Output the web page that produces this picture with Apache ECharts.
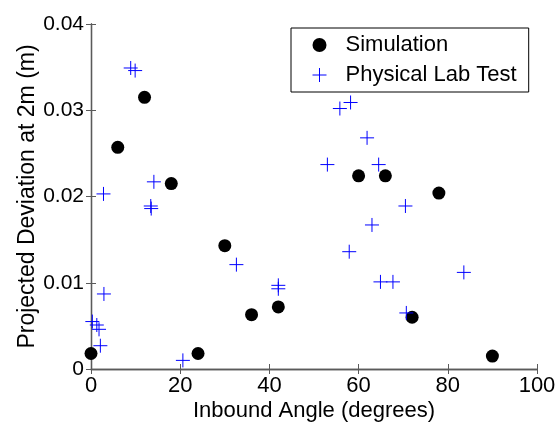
<!DOCTYPE html>
<html>
<head>
<meta charset="utf-8">
<script src="https://cdn.jsdelivr.net/npm/echarts@6/dist/echarts.min.js"></script>
<style>
  html, body { margin: 0; padding: 0; background: #fff; }
  #chart { width: 557px; height: 423px; }
</style>
</head>
<body>
<div id="chart"></div>
<script>
// Simulated runs: inbound angle (degrees) vs projected deviation at 2 m (m)
const simAngle = [0, 6, 12, 18, 24, 30, 36, 42, 60, 66, 72, 78, 90];
const simDeviation = [0.0018, 0.0257, 0.0315, 0.0215, 0.0018, 0.0143, 0.0063, 0.0072, 0.0224, 0.0224, 0.0060, 0.0204, 0.0015];

// Physical lab test measurements
const labAngle = [0.3, 1.3, 1.8, 2.1, 2.9, 2.8, 8.9, 9.9, 13.4, 13.5, 14.1, 20.6, 32.6, 42, 42, 53, 55.8, 58.2, 57.9, 61.9, 63, 64.5, 64.9, 67.7, 70.5, 70.7, 83.6];
const labDeviation = [0.0055, 0.0051, 0.0046, 0.0027, 0.0087, 0.0203, 0.0349, 0.0346, 0.0189, 0.0186, 0.0217, 0.0010, 0.0121, 0.0097, 0.0093, 0.0237, 0.0302, 0.0309, 0.0136, 0.0268, 0.0167, 0.0237, 0.0101, 0.0101, 0.0189, 0.0065, 0.0112];

const xTicks = { min: 0, max: 100, interval: 20 };
const yTicks = { min: 0, max: 0.04, interval: 0.01 };

const FONT = 'Liberation Sans, Arial, sans-serif';
const AXIS_COLOR = '#5a5a5a';
const CROSS = 'path://M0,-1L0,1M-1,0L1,0';

const pairs = (xs, ys) => xs.map((x, i) => [x, ys[i]]);

const baseAxis = {
  axisLine: { show: true, lineStyle: { color: AXIS_COLOR, width: 1.3 } },
  axisTick: { show: true, inside: true, length: 5, lineStyle: { color: AXIS_COLOR } },
  splitLine: { show: false }
};

const chart = echarts.init(document.getElementById('chart'), null, { renderer: 'canvas' });
chart.setOption({
  animation: false,
  backgroundColor: '#ffffff',
  grid: { left: 91, right: 20, top: 24, bottom: 54, containLabel: false, outerBoundsMode: 'none' },
  legend: {
    orient: 'vertical',
    left: 291,
    top: 28,
    padding: [6, 12, 6, 21],
    itemGap: 8,
    itemWidth: 30,
    itemHeight: 14,
    backgroundColor: '#ffffff',
    borderColor: '#000000',
    borderWidth: 1,
    borderRadius: 0,
    textStyle: { fontFamily: FONT, fontSize: 22, color: '#000', padding: [0, 0, 0, 6] },
    data: [
      { name: 'Simulation', icon: 'circle' },
      { name: 'Physical Lab Test', icon: CROSS, itemStyle: { color: 'transparent', borderColor: '#0000ff', borderWidth: 1 } }
    ]
  },
  xAxis: [
    Object.assign({}, baseAxis, {
      type: 'value', position: 'bottom',
      min: xTicks.min, max: xTicks.max, interval: xTicks.interval,
      name: 'Inbound Angle (degrees)',
      nameLocation: 'middle', nameGap: 31, nameMoveOverlap: false,
      nameTextStyle: { fontFamily: FONT, fontSize: 22, color: '#000' },
      axisLabel: { fontFamily: FONT, fontSize: 22, color: '#000', margin: 6 }
    }),
    Object.assign({}, baseAxis, {
      type: 'value', position: 'top',
      min: xTicks.min, max: xTicks.max, interval: xTicks.interval,
      axisLabel: { show: false }
    })
  ],
  yAxis: [
    Object.assign({}, baseAxis, {
      type: 'value', position: 'left',
      min: yTicks.min, max: yTicks.max, interval: yTicks.interval,
      name: 'Projected Deviation at 2m (m)',
      nameLocation: 'middle', nameGap: 52, nameMoveOverlap: false,
      nameTextStyle: { fontFamily: FONT, fontSize: 23, color: '#000' },
      axisLabel: { fontFamily: FONT, fontSize: 21, color: '#000', margin: 7,
        formatter: v => v === 0 ? '0' : v.toFixed(2) }
    }),
    Object.assign({}, baseAxis, {
      type: 'value', position: 'right',
      min: yTicks.min, max: yTicks.max, interval: yTicks.interval,
      axisLabel: { show: false }
    })
  ],
  series: [
    {
      name: 'Simulation',
      type: 'scatter',
      symbol: 'circle',
      symbolSize: 13,
      itemStyle: { color: '#000000', opacity: 1 },
      data: pairs(simAngle, simDeviation),
      z: 2
    },
    {
      name: 'Physical Lab Test',
      type: 'scatter',
      symbol: CROSS,
      symbolSize: 14,
      itemStyle: { color: 'transparent', borderColor: '#0000ff', borderWidth: 1, opacity: 1 },
      data: pairs(labAngle, labDeviation),
      z: 3
    }
  ]
});
</script>
</body>
</html>
